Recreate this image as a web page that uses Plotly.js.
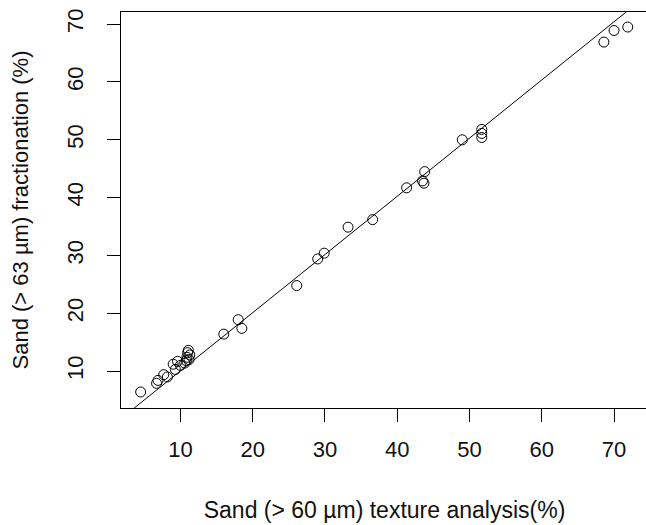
<!DOCTYPE html>
<html>
<head>
<meta charset="utf-8">
<script src="https://cdn.plot.ly/plotly-3.0.1.min.js"></script>
<style>
html,body{margin:0;padding:0;overflow:hidden;background:#fff;}
#chart{width:660px;height:525px;}
</style>
</head>
<body>
<div id="chart"></div>
<script>
// Sand (> 60 µm) texture analysis (%)
var textureSand = [4.5, 6.7, 6.9, 7.7, 8.2, 9.0, 9.3, 9.6, 10.0, 10.6, 10.8, 10.9, 11.0, 11.1, 11.2, 11.3,
  16.0, 18.0, 18.5, 26.1, 29.0, 29.9, 33.2, 36.6, 41.3, 43.5, 43.7, 43.8, 49.0, 51.7, 51.7, 51.7,
  68.6, 70.0, 71.9];
// Sand (> 63 µm) fractionation (%)
var fractionSand = [6.4, 7.9, 8.4, 9.4, 9.0, 11.2, 10.3, 11.7, 11.0, 11.4, 11.8, 12.4, 13.2, 13.6, 12.0, 12.8,
  16.4, 18.9, 17.4, 24.8, 29.4, 30.4, 34.9, 36.2, 41.7, 42.9, 42.5, 44.5, 50.0, 51.8, 51.1, 50.4,
  66.9, 68.9, 69.5];
// fitted line y = a + b*x
var fitIntercept = -0.01;
var fitSlope = 1.006;
var xTicks = [10, 20, 30, 40, 50, 60, 70];
var yTicks = [10, 20, 30, 40, 50, 60, 70];

var xRange = [1.78, 74.7];
var yRange = [3.63, 72.1];
var lineX = [0, 80];
var lineY = lineX.map(function (x) { return fitIntercept + fitSlope * x; });

var fam = 'Liberation Sans, Arial, sans-serif';
var tickFont = {family: fam, size: 22, color: '#111'};
var xTitleFont = {family: fam, size: 23, color: '#111'};
var yTitleFont = {family: fam, size: 22, color: '#111'};

var data = [
  {x: lineX, y: lineY, type: 'scatter', mode: 'lines',
   line: {color: '#000', width: 1}, hoverinfo: 'skip', showlegend: false},
  {x: textureSand, y: fractionSand, type: 'scatter', mode: 'markers',
   marker: {symbol: 'circle-open', size: 10, color: '#000', line: {color: '#000', width: 1}},
   showlegend: false, cliponaxis: false}
];

var layout = {
  width: 660, height: 525,
  margin: {l: 121, r: 12, t: 12, b: 117},
  paper_bgcolor: '#fff', plot_bgcolor: '#fff',
  font: tickFont,
  xaxis: {
    range: xRange, tickvals: xTicks, ticktext: xTicks.map(String),
    showgrid: false, zeroline: false,
    showline: true, mirror: true, linecolor: '#000', linewidth: 1,
    ticks: 'outside', ticklen: 13, tickwidth: 1, tickcolor: '#000',
    tickfont: tickFont, ticklabelstandoff: 9,
    title: {text: 'Sand (> 60 µm) texture analysis(%)', font: xTitleFont, standoff: 40}
  },
  yaxis: {
    range: yRange, tickvals: yTicks, ticktext: yTicks.map(String),
    showgrid: false, zeroline: false,
    showline: true, mirror: true, linecolor: '#000', linewidth: 1,
    ticks: 'outside', ticklen: 13, tickwidth: 1, tickcolor: '#000',
    tickangle: -90, tickfont: tickFont, ticklabelstandoff: 15,
    title: {text: 'Sand (> 63 µm) fractionation (%)', font: yTitleFont, standoff: 28}
  }
};

Plotly.newPlot('chart', data, layout, {staticPlot: true, displayModeBar: false});
</script>
</body>
</html>
